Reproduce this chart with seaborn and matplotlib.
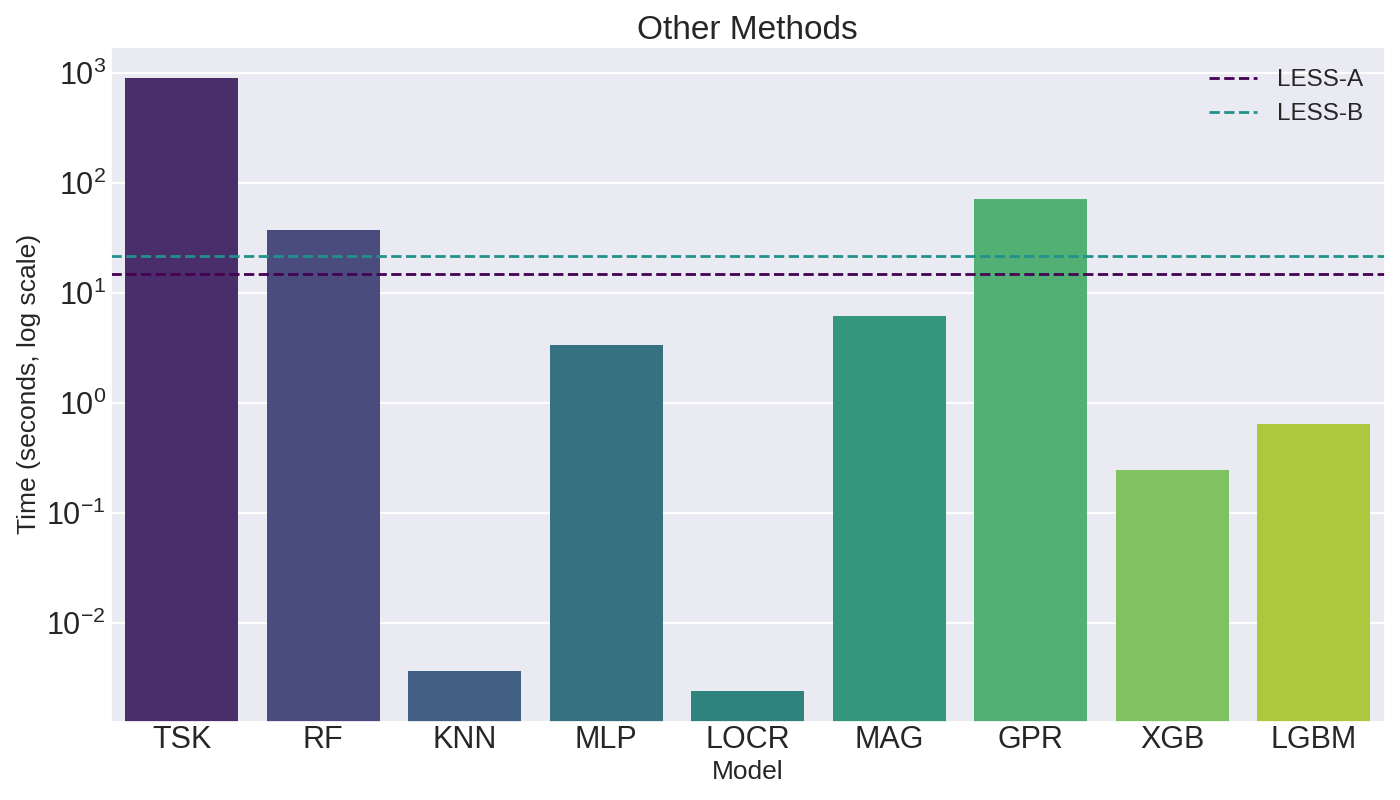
import matplotlib
matplotlib.use("Agg")
import matplotlib.pyplot as plt
import seaborn as sns
import pandas as pd

models = ["TSK", "RF", "KNN", "MLP", "LOCR", "MAG", "GPR", "XGB", "LGBM"]
times = [906, 37.6, 0.00368, 3.37, 0.00243, 6.22, 71.9, 0.248, 0.649]
less_a = 14.9
less_b = 21.7

sns.set_theme(style="darkgrid")
plt.rcParams['font.family'] = ['Liberation Sans', 'DejaVu Sans']
plt.rcParams['grid.linewidth'] = 1.4

fig, ax = plt.subplots(figsize=(14, 8), dpi=100)
fig.subplots_adjust(left=0.0793, right=0.989, top=0.941, bottom=0.098)

df = pd.DataFrame({"Model": models, "Time": times})
sns.barplot(data=df, x="Model", y="Time", hue="Model", palette="viridis",
            legend=False, ax=ax, linewidth=0)
ax.set_yscale("log")

vir = sns.color_palette("viridis", as_cmap=True)
ax.axhline(less_a, color=vir(0.0), ls="--", lw=2, label="LESS-A")
ax.axhline(less_b, color=vir(0.5), ls="--", lw=2, label="LESS-B")

ax.set_ylim(0.00127, 1722)
ax.set_title("Other Methods", fontsize=24)
ax.set_xlabel("Model", fontsize=19)
ax.set_ylabel("Time (seconds, log scale)", fontsize=19)
ax.tick_params(axis="both", labelsize=22, length=0)
ax.tick_params(axis="x", pad=2.3)
ax.tick_params(axis="y", pad=3.6)
ax.legend(frameon=False, fontsize=17.5, loc="upper right")

fig.savefig("out.png", dpi=100)
